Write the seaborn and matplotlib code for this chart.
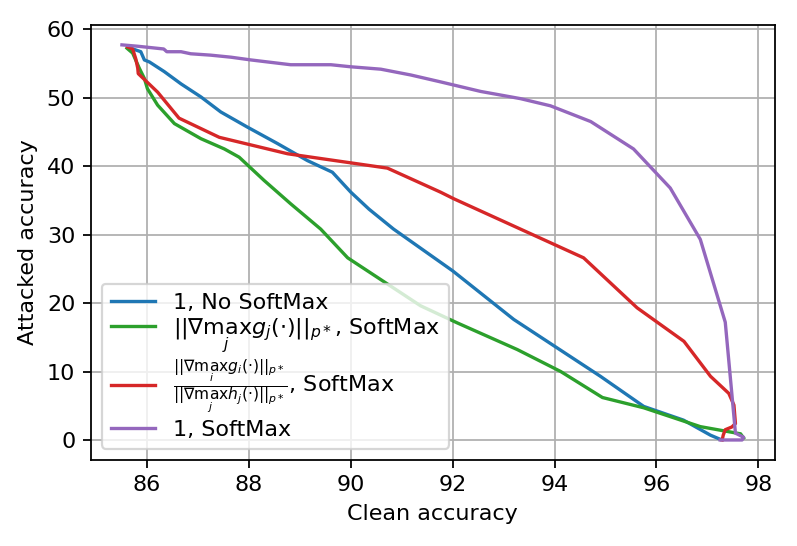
import matplotlib
matplotlib.use("Agg")
import matplotlib.pyplot as plt
import seaborn as sns

# 1, No SoftMax
blue_x = [85.65, 85.88, 85.95, 86.05, 86.34, 86.67, 87.06, 87.45, 87.97, 88.56,
          89.15, 89.64, 90.0, 90.36, 90.84, 92.0, 93.2, 94.9, 95.75, 96.53, 97.06, 97.25]
blue_y = [57.3, 56.7, 55.5, 55.2, 53.8, 52.0, 50.1, 47.9, 45.7, 43.3,
          40.8, 39.1, 36.2, 33.7, 30.8, 24.7, 17.6, 9.3, 4.9, 2.9, 0.7, 0.1]

# ||grad max_j g_j||, SoftMax
green_x = [85.61, 85.72, 85.85, 85.95, 86.01, 86.21, 86.54, 87.06, 87.52, 87.81,
           88.3, 88.82, 89.41, 89.94, 91.37, 92.09, 93.27, 94.12, 94.94, 95.75,
           96.86, 97.65, 97.71]
green_y = [57.2, 56.5, 54.3, 52.8, 51.3, 48.9, 46.2, 44.0, 42.5, 41.3,
           37.9, 34.5, 30.8, 26.6, 19.6, 17.1, 13.2, 10.0, 6.2, 4.7,
           1.95, 0.9, 0.3]

# ratio of gradient norms, SoftMax
red_x = [85.62, 85.72, 85.78, 85.82, 85.83, 86.21, 86.63, 87.42, 88.76, 90.72,
         91.76, 92.03, 94.57, 95.62, 96.54, 97.06, 97.42, 97.52, 97.55,
         97.48, 97.35, 97.31, 97.29]
red_y = [57.4, 57.1, 55.7, 54.3, 53.5, 50.8, 47.0, 44.2, 41.8, 39.7,
         36.2, 35.2, 26.6, 19.3, 14.4, 9.3, 6.8, 5.1, 2.4,
         1.9, 1.5, 0.7, 0.0]

# 1, SoftMax
purple_x = [85.51, 85.82, 86.33, 86.39, 86.67, 86.86, 87.25, 87.65, 88.04, 88.82,
            89.61, 90.0, 90.59, 91.18, 91.76, 92.55, 93.33, 93.92, 94.71, 95.55,
            96.27, 96.86, 97.35, 97.55, 97.71, 97.68, 97.25]
purple_y = [57.7, 57.5, 57.1, 56.7, 56.7, 56.4, 56.2, 55.9, 55.5, 54.8,
            54.8, 54.5, 54.15, 53.3, 52.3, 50.9, 49.85, 48.8, 46.5, 42.5,
            36.8, 29.3, 17.2, 1.0, 0.4, 0.0, 0.0]

labels = [
    "1, No SoftMax",
    r"$||\nabla \max_j g_j\!(\cdot)||_{p*}$, SoftMax",
    r"$\frac{||\nabla \max_i g_i\!(\cdot)||_{p*}}{||\nabla \max_j h_j\!(\cdot)||_{p*}}$, SoftMax",
    "1, SoftMax",
]
series = [(blue_x, blue_y), (green_x, green_y), (red_x, red_y), (purple_x, purple_y)]
colors = ["tab:blue", "tab:green", "tab:red", "tab:purple"]

fig, ax = plt.subplots(figsize=(797 / 160, 546 / 160), dpi=160)
fig.subplots_adjust(left=0.114, right=0.972, bottom=0.158, top=0.954)

for (xs, ys), lab, col in zip(series, labels, colors):
    sns.lineplot(x=xs, y=ys, sort=False, estimator=None, color=col, label=lab,
                 linewidth=1.5, ax=ax)

ax.grid(True, color="#b0b0b0", linewidth=0.8)
ax.set_axisbelow(True)
ax.set_xticks([86, 88, 90, 92, 94, 96, 98])
ax.set_yticks([0, 10, 20, 30, 40, 50, 60])
ax.set_xlabel("Clean accuracy")
ax.set_ylabel("Attacked accuracy")
ax.legend(loc="lower left", labelspacing=0.15)

fig.savefig("out.png", dpi=160)
